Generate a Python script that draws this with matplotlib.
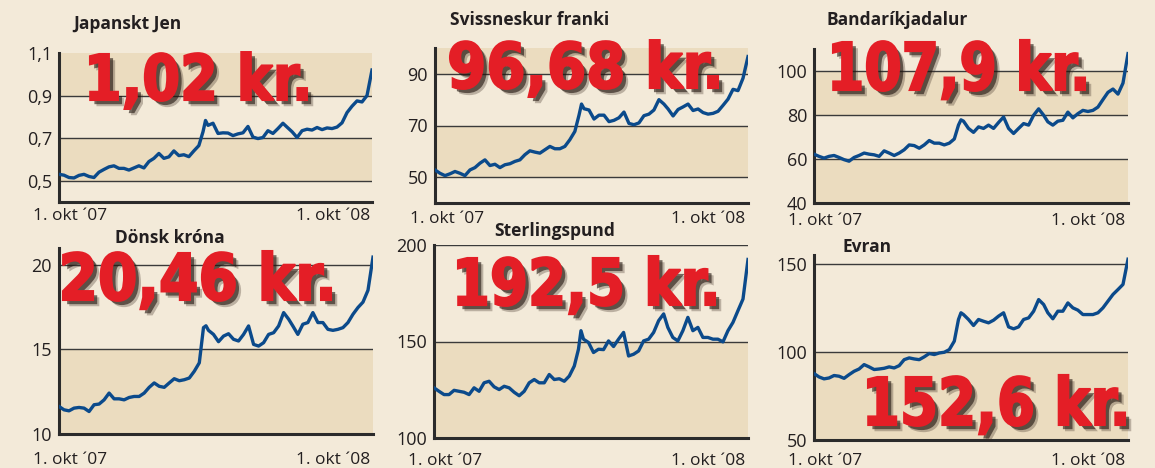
"""
Gengi krónunnar gagnvart sex myntum, 1. okt 2007 - okt 2008
"""

import matplotlib
matplotlib.use('Agg')
import matplotlib.pyplot as plt
import matplotlib.patheffects as pe
import matplotlib.transforms as mtransforms
from matplotlib.textpath import TextPath
from matplotlib.font_manager import FontProperties
from matplotlib.patches import PathPatch

# Dagar frá 1. okt 2007
days = [0, 6, 12, 18, 24, 30, 36, 42, 48, 54, 60, 66, 72, 78, 84, 90, 96, 102,
        108, 114, 120, 126, 132, 138, 144, 150, 156, 162, 168, 173, 176, 179,
        185, 191, 197, 203, 209, 215, 221, 227, 233, 239, 245, 251, 257, 263,
        269, 275, 280, 286, 292, 298, 304, 310, 316, 322, 328, 334, 340, 346,
        352, 358, 364, 370, 376]

jpy = [0.530, 0.526, 0.515, 0.513, 0.525, 0.530, 0.520, 0.515, 0.540, 0.553,
       0.565, 0.570, 0.558, 0.558, 0.550, 0.560, 0.570, 0.560, 0.590, 0.605,
       0.628, 0.605, 0.612, 0.640, 0.618, 0.622, 0.613, 0.640, 0.665, 0.730,
       0.783, 0.760, 0.770, 0.722, 0.725, 0.724, 0.712, 0.720, 0.725, 0.755,
       0.705, 0.698, 0.703, 0.735, 0.722, 0.745, 0.770, 0.748, 0.730, 0.703,
       0.735, 0.742, 0.738, 0.750, 0.740, 0.748, 0.745, 0.752, 0.772, 0.820,
       0.850, 0.875, 0.870, 0.900, 1.020]

chf = [52.8, 51.5, 50.6, 51.3, 52.2, 51.5, 50.6, 52.8, 53.7, 55.4, 56.7, 54.5,
       55.0, 53.7, 54.8, 55.2, 56.1, 56.7, 58.7, 60.2, 59.7, 59.3, 60.6, 61.9,
       61.0, 61.0, 61.9, 64.5, 67.7, 74.0, 78.3, 76.5, 76.0, 72.5, 74.0, 74.0,
       71.5, 72.0, 73.0, 75.2, 70.8, 70.3, 71.0, 73.8, 74.4, 76.0, 80.0, 78.3,
       76.4, 73.7, 76.2, 77.2, 78.3, 75.8, 76.4, 75.0, 74.4, 74.7, 75.5, 77.8,
       80.2, 84.0, 83.5, 88.3, 96.68]

usd = [62.2, 61.2, 60.4, 61.2, 61.6, 60.7, 59.7, 59.0, 60.7, 61.6, 62.7, 62.2,
       61.9, 61.2, 63.7, 62.7, 61.6, 62.7, 64.2, 66.4, 66.1, 64.9, 66.4, 68.4,
       67.2, 67.2, 66.4, 67.2, 69.1, 75.4, 77.8, 77.2, 73.9, 72.1, 74.6, 73.9,
       75.4, 73.9, 76.6, 79.1, 73.9, 71.6, 73.9, 76.1, 75.4, 79.9, 82.8, 79.9,
       76.9, 75.4, 77.2, 77.6, 81.3, 78.7, 80.6, 82.1, 81.6, 82.1, 83.6, 87.0,
       90.3, 91.8, 89.5, 94.5, 107.9]

dkk = [11.63, 11.43, 11.37, 11.53, 11.57, 11.53, 11.33, 11.73, 11.77, 12.02,
       12.42, 12.08, 12.08, 12.02, 12.16, 12.22, 12.22, 12.42, 12.76, 13.02,
       12.82, 12.76, 13.02, 13.27, 13.15, 13.21, 13.31, 13.71, 14.21, 16.29,
       16.40, 16.13, 15.89, 15.46, 15.79, 15.93, 15.60, 15.50, 15.89, 16.39,
       15.30, 15.20, 15.40, 15.89, 15.99, 16.39, 17.18, 16.79, 16.39, 15.89,
       16.49, 16.59, 17.18, 16.59, 16.59, 16.19, 16.13, 16.19, 16.29, 16.59,
       17.08, 17.48, 17.80, 18.50, 20.46]

gbp = [126.0, 124.2, 122.5, 122.5, 124.7, 124.2, 123.7, 122.5, 126.0, 124.2,
       128.6, 129.4, 126.5, 125.1, 126.8, 126.0, 123.7, 121.9, 124.2, 128.6,
       130.3, 128.6, 128.6, 132.9, 130.3, 130.7, 129.4, 132.1, 137.3, 146.0,
       155.6, 151.2, 149.5, 144.3, 146.0, 145.8, 150.3, 147.4, 151.2, 154.7,
       142.5, 143.4, 145.1, 150.3, 151.2, 154.7, 160.8, 164.3, 157.3, 152.1,
       150.3, 155.6, 162.5, 155.6, 157.3, 152.1, 152.1, 151.2, 151.2, 149.8,
       155.6, 159.9, 166.0, 172.0, 192.5]

eur = [87.7, 85.8, 84.7, 85.2, 86.6, 86.2, 85.0, 87.1, 89.0, 90.3, 92.8, 91.5,
       90.0, 90.3, 90.7, 91.5, 90.9, 92.2, 95.6, 96.6, 96.0, 95.6, 97.2, 99.1,
       98.5, 99.4, 99.8, 101.3, 106.1, 118.4, 122.2, 121.2, 118.4, 115.0, 118.4,
       117.4, 116.5, 118.0, 120.3, 122.2, 114.2, 113.1, 114.2, 118.4, 119.3,
       123.1, 129.7, 126.9, 122.2, 118.8, 123.1, 123.1, 127.8, 125.0, 123.7,
       121.2, 121.2, 121.2, 122.2, 125.0, 128.8, 132.6, 135.4, 138.3, 152.6]

titles = ['Japanskt Jen', 'Svissneskur franki', 'Bandaríkjadalur',
          'Dönsk króna', 'Sterlingspund', 'Evran']
latest = ['1,02 kr.', '96,68 kr.', '107,9 kr.', '20,46 kr.', '192,5 kr.', '152,6 kr.']
series = [jpy, chf, usd, dkk, gbp, eur]
ylims = [(0.4, 1.1), (40, 100), (40, 110), (10, 21), (100, 200), (50, 155)]
yticks = [[0.5, 0.7, 0.9, 1.1], [50, 70, 90], [40, 60, 80, 100],
          [10, 15, 20], [100, 150, 200], [50, 100, 150]]
yticklabels = [['0,5', '0,7', '0,9', '1,1'], ['50', '70', '90'],
               ['40', '60', '80', '100'], ['10', '15', '20'],
               ['100', '150', '200'], ['50', '100', '150']]
gridvals = [[0.5, 0.7, 0.9], [50, 70, 90], [60, 80, 100],
            [15, 20], [150, 200], [100, 150]]
bands = [[(0.5, 0.7), (0.9, 1.1)], [(50, 70), (90, 100)], [(40, 60), (80, 100)],
         [(10, 15)], [(100, 150)], [(50, 100)]]
xlabels = ['1. okt \u00b407', '1. okt \u00b408']

W, H = 1155, 468
BG = '#f3ead9'
BAND = '#ebdcbf'
DARK = '#231f20'
BLUE = '#0b4a8b'
RED = '#e41e26'

# staðsetning ramma í pixlum: vinstri, hægri, efri, neðri
frames = [(59, 372, 53, 202), (435, 748, 48, 203), (814, 1128, 49, 203),
          (59, 373, 248, 434), (434, 748, 245, 438), (814, 1128, 255, 440)]
title_pos = [(73, 24), (450, 20), (826, 20), (115, 238), (494, 231), (842, 247)]
# stóru rauðu tölurnar: vinstri, hægri, grunnlína, hæð tölustafa (pixlar)
big_box = [(90, 307, 100, 46), (450, 718, 88, 46), (833, 1085, 90, 48),
           (63, 331, 300, 47), (458, 715, 305, 47), (868, 1125, 425, 48)]
xlab_pos = [(70, 333, 216), (447, 708, 219), (825, 1088, 221),
            (70, 333, 460), (445, 708, 461), (825, 1088, 461)]


def fx(x):
    return x / W


def fy(y):
    return 1 - y / H


def big_number(fig, text, box):
    """Þjappað feitletrað rautt letur með skugga"""
    left, right, base, cap = box
    prop = FontProperties(family='DejaVu Sans', weight='bold')
    tp = TextPath((0, 0), text, size=1, prop=prop)
    ext = tp.get_extents()
    sy = cap / 0.729
    sx = (right - left) / ext.width
    tr = mtransforms.Affine2D().translate(-ext.x0, 0).scale(sx, sy) \
        .translate(left, H - base)
    patch = PathPatch(tp, transform=tr, facecolor=RED, edgecolor='none',
                      zorder=10)
    patch.set_path_effects([
        pe.SimplePatchShadow(offset=(4.5, -4.5), shadow_rgbFace='#3a2a20', alpha=0.3),
        pe.SimplePatchShadow(offset=(3, -3), shadow_rgbFace='#1e120c', alpha=0.6),
        pe.Stroke(linewidth=1.5, foreground=RED),
        pe.Normal()])
    fig.add_artist(patch)


fig = plt.figure(figsize=(W / 100, H / 100), dpi=100)
fig.patch.set_facecolor(BG)

for i in range(6):
    l, r, t, b = frames[i]
    ax = fig.add_axes([fx(l), fy(b), (r - l) / W, (b - t) / H])
    ax.set_facecolor(BG)
    for lo, hi in bands[i]:
        ax.axhspan(lo, hi, color=BAND, zorder=0, lw=0)
    for g in gridvals[i]:
        ax.axhline(g, color='#3a3a3a', lw=1.0, zorder=1)
    ax.plot(days, series[i], color=BLUE, lw=2.4, zorder=3,
            solid_joinstyle='round')
    ax.set_xlim(days[0], days[-1])
    ax.set_ylim(*ylims[i])
    ax.set_xticks([])
    ax.set_yticks(yticks[i], yticklabels[i])
    ax.tick_params(axis='y', length=0, pad=5, labelsize=13, labelcolor=DARK)
    for lab in ax.get_yticklabels():
        lab.set_family('Open Sans')
    for s in ['top', 'right']:
        ax.spines[s].set_visible(False)
    for s in ['left', 'bottom']:
        ax.spines[s].set_color('#2b2b2b')
        ax.spines[s].set_linewidth(2.2)

    fig.text(fx(title_pos[i][0]), fy(title_pos[i][1]), titles[i],
             fontsize=12.5, fontweight='bold', family='Open Sans',
             color=DARK, ha='left', va='center')
    x1, x2, yl = xlab_pos[i]
    fig.text(fx(x1), fy(yl), xlabels[0], fontsize=12.5, family='Open Sans',
             color=DARK, ha='center', va='center')
    fig.text(fx(x2), fy(yl), xlabels[1], fontsize=12.5, family='Open Sans',
             color=DARK, ha='center', va='center')
    big_number(fig, latest[i], big_box[i])

fig.savefig('out.png', dpi=100, facecolor=BG)
